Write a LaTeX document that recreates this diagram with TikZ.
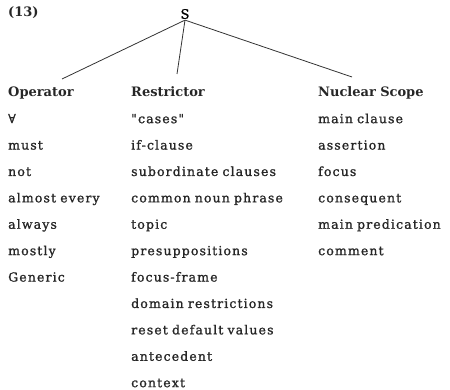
\documentclass[tikz,border=0pt]{standalone}
\usepackage{fontspec}
\setmainfont{DejaVu Serif}
\newfontfamily\listfont[LetterSpace=9, FakeBold=1.2]{DejaVu Serif}
\usepackage{tikz}
\usetikzlibrary{positioning}
\tikzset{
  word/.style={inner sep=0pt, align=left, text height=8pt, text depth=2.5pt,
               font=\fontsize{12.5}{14}\listfont, text=black!85},
  opword/.style={word, text width=118pt},
  reword/.style={word, text width=175pt},
  nuword/.style={word, text width=128pt},
  head/.style={font=\fontsize{13}{15}\selectfont\bfseries},
  branch/.style={line width=0.8pt, draw=black!80},
}

\begin{document}
\begin{tikzpicture}[x=1pt, y=-1pt, node distance=15.5pt]
  \useasboundingbox (0,0) rectangle (450,390);

  %% root
  \node[inner sep=1pt, font=\fontsize{13}{15}\listfont] (root) at (185,14) {S};
  \node[word, head, anchor=west] (num) at (8,14) {(13)};

  %% Operator
  \node[opword, head, anchor=west] (op) at (8,94) {Operator};
  \node[opword, below=of op] (op1) {∀};
  \node[opword, below=of op1] (op2) {must};
  \node[opword, below=of op2] (op3) {not};
  \node[opword, below=of op3] (op4) {almost every};
  \node[opword, below=of op4] (op5) {always};
  \node[opword, below=of op5] (op6) {mostly};
  \node[opword, below=of op6] (op7) {Generic};

  %% Restrictor
  \node[reword, head, anchor=west] (re) at (131,94) {Restrictor};
  \node[reword, below=of re] (re1) {\symbol{34}cases\symbol{34}};
  \node[reword, below=of re1] (re2) {if-clause};
  \node[reword, below=of re2] (re3) {subordinate clauses};
  \node[reword, below=of re3] (re4) {common noun phrase};
  \node[reword, below=of re4] (re5) {topic};
  \node[reword, below=of re5] (re6) {presuppositions};
  \node[reword, below=of re6] (re7) {focus-frame};
  \node[reword, below=of re7] (re8) {domain restrictions};
  \node[reword, below=of re8] (re9) {reset default values};
  \node[reword, below=of re9] (re10) {antecedent};
  \node[reword, below=of re10] (re11) {context};

  %% Nuclear Scope
  \node[nuword, head, anchor=west] (nu) at (318,94) {Nuclear Scope};
  \node[nuword, below=of nu] (nu1) {main clause};
  \node[nuword, below=of nu1] (nu2) {assertion};
  \node[nuword, below=of nu2] (nu3) {focus};
  \node[nuword, below=of nu3] (nu4) {consequent};
  \node[nuword, below=of nu4] (nu5) {main predication};
  \node[nuword, below=of nu5] (nu6) {comment};

  %% branches
  \coordinate (opend) at (62,79);
  \coordinate (reend) at (177,74);
  \coordinate (nuend) at (352,77);
  \draw[branch] (root.south) -- (opend);
  \draw[branch] (root.south) -- (reend);
  \draw[branch] (root.south) -- (nuend);

\end{tikzpicture}
\end{document}
